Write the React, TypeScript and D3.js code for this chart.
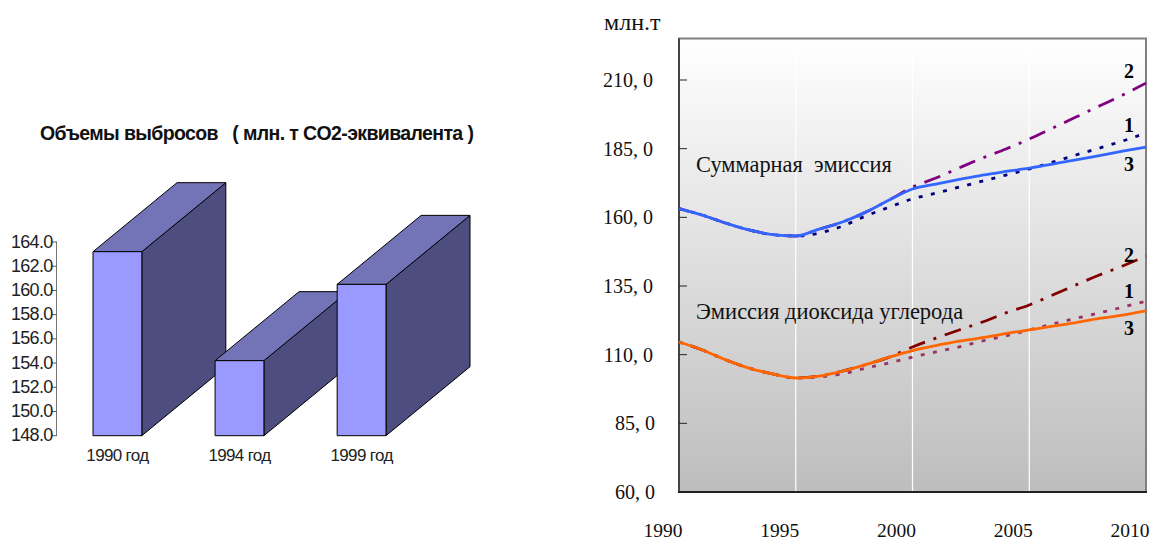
import React from "react";
import * as d3 from "d3";

const barCategories = ["1990 год", "1994 год", "1999 год"];
const barValues = [163.2, 154.2, 160.5];
const barTicks = [148, 150, 152, 154, 156, 158, 160, 162, 164];

const years = d3.range(1990, 2011);
const totalScenario1 = [163.2, 160.8, 157.9, 155.4, 153.7, 153.2, 154.3, 156.8, 160.5, 163.7, 166.7, 168.8, 171, 173.2, 175.4, 177.6, 180.1, 182.7, 185.2, 187.8, 190.7];
const totalScenario2 = [163.2, 160.8, 157.9, 155.4, 153.7, 153.2, 155.7, 158.3, 161.9, 166.3, 171, 174.3, 178, 181.6, 184.9, 188.5, 192.5, 196.5, 200.5, 204.5, 208.9];
const totalScenario3 = [163.2, 160.8, 157.9, 155.4, 153.7, 153.2, 155.7, 158.3, 161.9, 166.3, 170.3, 172.1, 173.8, 175.4, 176.7, 177.9, 179.4, 180.9, 182.5, 184.1, 185.6];
const co2Scenario1 = [114.6, 111.7, 108.1, 105.1, 103, 101.5, 101.9, 103, 105.1, 107, 109.1, 111, 112.8, 115, 116.8, 119, 121.2, 123.2, 125.2, 127.3, 129.5];
const co2Scenario2 = [114.6, 111.7, 108.1, 105.1, 103, 101.5, 102.2, 104, 106.4, 109.1, 112.8, 116, 119, 121.9, 125.2, 128.1, 131.7, 135.4, 139, 142.3, 145.9];
const co2Scenario3 = [114.6, 111.7, 108.1, 105.1, 103, 101.5, 102.2, 104, 106.4, 109.1, 111.5, 113.3, 114.9, 116.2, 117.7, 119, 120.4, 121.7, 123.2, 124.4, 125.9];

const yTicks = [60, 85, 110, 135, 160, 185, 210];
const xTicks = [1990, 1995, 2000, 2005, 2010];
const DOT = "4 8.5";
const DASHDOT = "17 9 3 9";

const seriesList = [
  { values: totalScenario2, color: "#800080", dash: DASHDOT, offset: 5.5 },
  { values: totalScenario1, color: "#000080", dash: DOT, offset: 0 },
  { values: totalScenario3, color: "#3366FF", dash: "", offset: 0 },
  { values: co2Scenario2, color: "#800000", dash: DASHDOT, offset: 25.5 },
  { values: co2Scenario1, color: "#993366", dash: DOT, offset: 0 },
  { values: co2Scenario3, color: "#FF6600", dash: "", offset: 0 },
];
const numberLabels = [
  { text: "2", value: 210.9 },
  { text: "1", value: 190.9 },
  { text: "3", value: 177 },
  { text: "2", value: 143.9 },
  { text: "1", value: 130.8 },
  { text: "3", value: 117 },
];

const SANS = "'Liberation Sans', Arial, sans-serif";
const SERIF = "'Liberation Serif', 'Times New Roman', serif";

export default function App() {
  const bx = d3.scaleBand<string>().domain(barCategories).range([93, 386]).paddingInner(0.6).paddingOuter(0);
  const by = d3.scaleLinear().domain([148, 164]).range([435.7, 242]);
  const depthX = 84;
  const depthY = 69;

  const x = d3.scaleLinear().domain([1990, 2010]).range([679, 1146]);
  const y = d3.scaleLinear().domain([60, 210]).range([492, 80]);
  const plotTop = 38.5;
  const line = d3
    .line<number>()
    .x((_, i) => x(years[i]))
    .y((d) => y(d))
    .curve(d3.curveMonotoneX);

  return (
    <svg
      width={1151}
      height={539}
      style={{ position: "absolute", left: 0, top: 0, display: "block", background: "#fff" }}
    >
      <defs>
        <linearGradient id="bg" x1="0" y1="0" x2="0" y2="1">
          <stop offset="0" stopColor="#ffffff" />
          <stop offset="1" stopColor="#bdbdbd" />
        </linearGradient>
      </defs>

      {/* left chart */}
      <text x={40} y={139.5} fontFamily={SANS} fontWeight="bold" fontSize={19.5} letterSpacing={-0.62} fill="#111" xmlSpace="preserve">
        {"Объемы выбросов   ( млн. т CO2-эквивалента )"}
      </text>
      <line x1={56.5} x2={56.5} y1={by(164)} y2={by(148)} stroke="#777" strokeWidth={1} />
      {barTicks.map((t) => (
        <g key={t}>
          <line x1={52} x2={57} y1={by(t)} y2={by(t)} stroke="#555" />
          <text x={52.5} y={by(t) + 5.5} textAnchor="end" fontFamily={SANS} fontSize={18} letterSpacing={-0.7} fill="#222">
            {t.toFixed(1)}
          </text>
        </g>
      ))}
      {barCategories.map((c, i) => {
        const x0 = bx(c)!;
        const x1 = x0 + bx.bandwidth();
        const top = by(barValues[i]);
        const base = by(148);
        const pts = (p: number[][]) => p.map((q) => q.join(",")).join(" ");
        return (
          <g key={c} stroke="#000" strokeWidth={1} strokeLinejoin="round">
            <polygon
              points={pts([[x1, top], [x1 + depthX, top - depthY], [x1 + depthX, base - depthY], [x1, base]])}
              fill="#4D4D7F"
            />
            <polygon
              points={pts([[x0, top], [x0 + depthX, top - depthY], [x1 + depthX, top - depthY], [x1, top]])}
              fill="#7373B8"
            />
            <rect x={x0} y={top} width={x1 - x0} height={base - top} fill="#9999FF" />
            <text
              x={(x0 + x1) / 2}
              y={460.5}
              textAnchor="middle"
              stroke="none"
              fontFamily={SANS}
              fontSize={17}
              letterSpacing={-0.65}
              fill="#222"
            >
              {c}
            </text>
          </g>
        );
      })}

      {/* right chart */}
      <text x={604} y={29.5} fontFamily={SERIF} fontSize={24} fill="#111">
        млн.т
      </text>
      <rect x={679} y={plotTop} width={467} height={492 - plotTop} fill="url(#bg)" />
      {xTicks.slice(1, -1).map((t) => (
        <line key={t} x1={x(t)} x2={x(t)} y1={plotTop} y2={492} stroke="#fff" strokeWidth={1.2} />
      ))}
      <line x1={678} x2={1147} y1={plotTop} y2={plotTop} stroke="#808080" strokeWidth={2} />
      <line x1={1146} x2={1146} y1={plotTop} y2={492} stroke="#808080" strokeWidth={2} />
      <line x1={679} x2={679} y1={plotTop} y2={492} stroke="#444" strokeWidth={2} />
      <line x1={678} x2={1147} y1={492} y2={492} stroke="#222" strokeWidth={2} />
      {yTicks.map((t) => (
        <g key={t}>
          {t > 60 && <line x1={679} x2={687} y1={y(t)} y2={y(t)} stroke="#222" strokeWidth={1} />}
          <text x={t < 100 ? 655 : 653} y={y(t) + 7} textAnchor="end" fontFamily={SERIF} fontSize={20} fill="#111">
            {`${t}, 0`}
          </text>
        </g>
      ))}
      {xTicks.map((t) => (
        <text key={t} x={x(t) - 16} y={536.5} textAnchor="middle" fontFamily={SERIF} fontSize={19.5} fill="#111">
          {t}
        </text>
      ))}
      {seriesList.map((s, i) => (
        <path
          key={i}
          d={line(s.values) ?? ""}
          fill="none"
          stroke={s.color}
          strokeWidth={2.8}
          strokeDasharray={s.dash || undefined}
          strokeDashoffset={s.offset || undefined}
        />
      ))}
      <text x={696} y={172} fontFamily={SERIF} fontSize={22.4} fill="#111" xmlSpace="preserve">
        {"Суммарная  эмиссия"}
      </text>
      <text x={696} y={319} fontFamily={SERIF} fontSize={22.5} fill="#111">
        Эмиссия диоксида углерода
      </text>
      {numberLabels.map((n, i) => (
        <text key={i} x={1129} y={y(n.value)} textAnchor="middle" fontFamily={SERIF} fontWeight="bold" fontSize={20} fill="#000">
          {n.text}
        </text>
      ))}
    </svg>
  );
}
